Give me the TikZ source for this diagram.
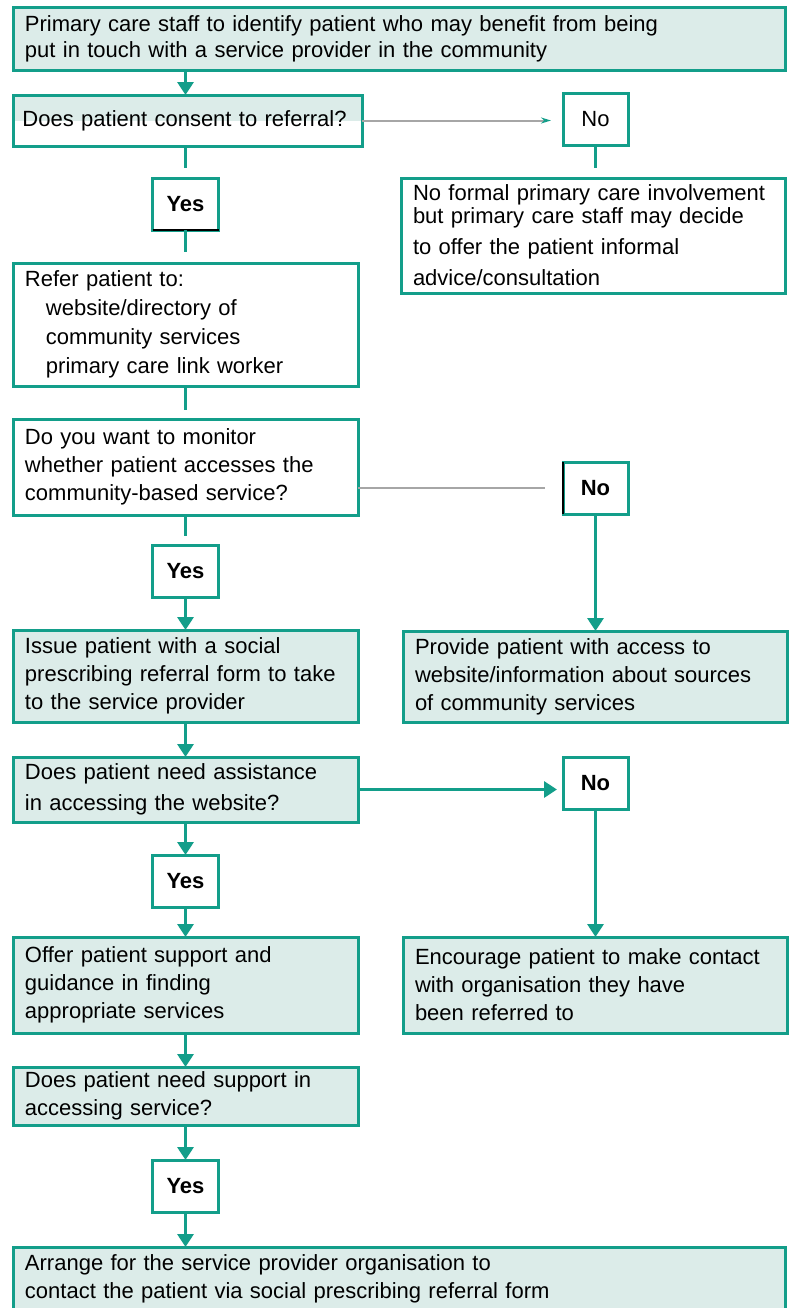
\documentclass[tikz,border=0pt]{standalone}
\usepackage{fontspec}
\setmainfont{Liberation Sans}
\usetikzlibrary{arrows.meta, positioning}
\definecolor{linecol}{HTML}{139E8A}
\definecolor{boxfill}{HTML}{DCECE9}
\definecolor{greycol}{HTML}{A6A6A6}
\tikzset{box/.style = {
  % Rectangle:
  rectangle,
  draw=linecol, line width=1.5pt,
  anchor=north west, outer sep=0pt,
  inner xsep=6pt, inner ysep=0pt,
  % Text
  align=left,
  font=\fontsize{11}{14}\selectfont
  }}
\tikzset{filled/.style = {
  % Rectangle:
  box,
  fill=boxfill
  }}
\tikzset{narrow/.style = {text width=160.5pt}}
\tikzset{wide/.style = {text width=374pt}}
\tikzset{side/.style = {text width=180pt}}
\tikzset{answer/.style = {
  % Rectangle:
  box,
  anchor=north, align=center,
  inner xsep=0pt, text width=33pt,
  minimum height=26pt,
  % Text
  font=\fontsize{11}{14}\selectfont\bfseries
  }}
\tikzset{arrow/.style = {
  -{Triangle[width=8pt,length=6.5pt]},
  draw=linecol,
  line width=1.6pt
  }}
\tikzset{link/.style = {
  draw=linecol,
  line width=1.6pt
  }}
\tikzset{greyline/.style = {
  draw=greycol,
  line width=1pt
  }}

\begin{document}
\begin{tikzpicture}[x=0.5pt, y=-0.5pt]
\useasboundingbox (0,0) rectangle (791,1308);
\clip (0,0) rectangle (791,1308);

% NODES
\node (top) [filled, wide, minimum height=31.5pt, font=\fontsize{11}{13}\selectfont] at (13,7) {Primary care staff to identify patient who may benefit from being\\put in touch with a service provider in the community};

\node (consent) [box, text width=165pt, inner xsep=4.75pt, minimum height=25.5pt,
  path picture={\fill[boxfill] (path picture bounding box.north west) rectangle (path picture bounding box.east);}] at (13,95) {\mbox{Does patient consent to referral?}};
\node (no1) [answer, text width=32.5pt, font=\fontsize{11}{14}\selectfont] at (595.5,93) {No};
\node (noformal) [box, side, minimum height=57.5pt, font=\fontsize{11}{11.5}\selectfont] at (401,178) {No formal primary care involvement\\but primary care staff may decide\\[4pt]to offer the patient informal\\[4pt]advice/consultation};

\node (yes1) [answer] at (185.5,178) {Yes};
\node (refer) [box, narrow, minimum height=61.5pt, font=\fontsize{11}{14.5}\selectfont] at (13,263) {Refer patient to:\\\hspace*{10.5pt}website/directory of\\\hspace*{10.5pt}community services\\\hspace*{10.5pt}primary care link worker};

\node (monitor) [box, narrow, minimum height=48pt] at (13,419) {Do you want to monitor\\whether patient accesses the\\community-based service?};
\node (no2) [answer, text width=32.5pt] at (595.5,462) {No};
\node (yes2) [answer] at (185.5,545) {Yes};

\node (issue) [filled, narrow, minimum height=46pt] at (13,630) {Issue patient with a social\\prescribing referral form to take\\to the service provider};
\node (provide) [filled, side, minimum height=45.5pt] at (403,631) {Provide patient with access to\\website/information about sources\\of community services};

\node (assist) [filled, narrow, minimum height=32.5pt] at (13,757) {Does patient need assistance\\[1.5pt]in accessing the website?};
\node (no3) [answer, text width=32.5pt] at (595.5,757) {No};
\node (yes3) [answer] at (185.5,855) {Yes};

\node (offer) [filled, narrow, minimum height=48pt] at (13,937) {Offer patient support and\\guidance in finding\\appropriate services};
\node (encourage) [filled, side, minimum height=48pt] at (403,937) {Encourage patient to make contact\\with organisation they have\\been referred to};

\node (support) [filled, narrow, minimum height=29pt] at (13,1067) {Does patient need support in\\accessing service?};
\node (yes4) [answer] at (185.5,1160) {Yes};
\node (arrange) [filled, wide, minimum height=32pt] at (13,1247) {Arrange for the service provider organisation to\\contact the patient via social prescribing referral form};

% odd black edges
\draw [black, line width=1pt] (yes1.south west) -- (yes1.south east);
\draw [black, line width=1pt] (no2.north west) -- (no2.south west);

% arrows
\draw [arrow] (top.south -| yes1.north) -- (yes1.north |- consent.north);
\draw [greyline, -{Stealth[length=5pt,width=3pt,color=linecol]}, shorten >=6pt] (consent.east) -- (consent.east -| no1.west);
\draw [link, shorten >=5pt] (no1.south) -- (noformal.north -| no1.south);
\draw [link, shorten >=5pt] (consent.south -| yes1.north) -- (yes1.north);
\draw [link, shorten >=5.5pt] (yes1.south) -- (refer.north);
\draw [link, shorten >=4.5pt] (refer.south) -- (monitor.north);

\draw [link, shorten >=4.5pt] (monitor.south) -- (yes2.north);
\draw [greyline, shorten >=9pt] (no2.west -| monitor.east) -- (no2.west);
\draw [arrow] (no2.south) -- (provide.north -| no2.south);
\draw [arrow] (yes2.south) -- (issue.north);

\draw [arrow] (issue.south) -- (assist.north);
\draw [arrow, shorten >=3pt] (assist.east) -- (assist.east -| no3.west);
\draw [arrow] (no3.south) -- (encourage.north -| no3.south);
\draw [arrow] (assist.south) -- (yes3.north);
\draw [arrow] (yes3.south) -- (offer.north);

\draw [arrow] (offer.south) -- (support.north);
\draw [arrow] (support.south) -- (yes4.north);
\draw [arrow] (yes4.south) -- (yes4.south |- arrange.north);
\end{tikzpicture}
\end{document}
